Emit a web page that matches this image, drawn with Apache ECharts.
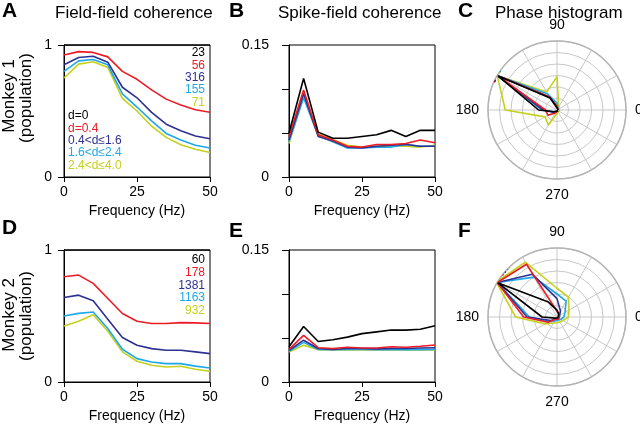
<!DOCTYPE html>
<html>
<head>
<meta charset="utf-8">
<script src="https://cdn.jsdelivr.net/npm/echarts@6/dist/echarts.min.js"></script>
<style>
  html, body { margin: 0; padding: 0; background: #fff; }
  #main { width: 640px; height: 426px; }
</style>
</head>
<body>
<div id="main"></div>
<script>
// frequency axis (Hz)
var freqs = [0, 5, 10, 15, 20, 25, 30, 35, 40, 45, 50];

// Monkey 1, field-field coherence
var ffM1Black  = [1, 1, 1, 1, 1, 1, 1, 1, 1, 1, 1];
var ffM1Red    = [0.924, 0.95, 0.944, 0.91, 0.80, 0.74, 0.66, 0.59, 0.545, 0.51, 0.49];
var ffM1Navy   = [0.85, 0.905, 0.915, 0.87, 0.68, 0.60, 0.49, 0.40, 0.35, 0.31, 0.29];
var ffM1Cyan   = [0.80, 0.88, 0.89, 0.85, 0.63, 0.53, 0.425, 0.33, 0.28, 0.24, 0.22];
var ffM1Yellow = [0.75, 0.855, 0.873, 0.83, 0.595, 0.50, 0.385, 0.30, 0.245, 0.21, 0.185];

// Monkey 1, spike-field coherence
var sfM1Black  = [0.050, 0.112, 0.051, 0.044, 0.044, 0.046, 0.048, 0.053, 0.046, 0.053, 0.053];
var sfM1Red    = [0.046, 0.099, 0.048, 0.042, 0.035, 0.034, 0.037, 0.037, 0.038, 0.042, 0.039];
var sfM1Navy   = [0.042, 0.095, 0.046, 0.041, 0.034, 0.033, 0.035, 0.036, 0.037, 0.035, 0.035];
var sfM1Cyan   = [0.040, 0.090, 0.047, 0.040, 0.033, 0.033, 0.034, 0.034, 0.037, 0.035, 0.035];
var sfM1Yellow = [0.038, 0.093, 0.049, 0.0425, 0.036, 0.034, 0.035, 0.035, 0.035, 0.034, 0.036];

// Monkey 2, field-field coherence
var ffM2Black  = [1, 1, 1, 1, 1, 1, 1, 1, 1, 1, 1];
var ffM2Red    = [0.797, 0.81, 0.747, 0.633, 0.519, 0.46, 0.443, 0.443, 0.45, 0.448, 0.443];
var ffM2Navy   = [0.64, 0.658, 0.615, 0.475, 0.337, 0.278, 0.253, 0.24, 0.24, 0.228, 0.215];
var ffM2Cyan   = [0.50, 0.52, 0.53, 0.405, 0.248, 0.177, 0.152, 0.139, 0.139, 0.12, 0.106];
var ffM2Yellow = [0.425, 0.46, 0.51, 0.385, 0.228, 0.157, 0.127, 0.114, 0.119, 0.096, 0.081];

// Monkey 2, spike-field coherence
var sfM2Black  = [0.040, 0.063, 0.046, 0.048, 0.051, 0.055, 0.057, 0.059, 0.059, 0.060, 0.064];
var sfM2Red    = [0.037, 0.053, 0.039, 0.038, 0.0395, 0.0387, 0.0387, 0.040, 0.0395, 0.0406, 0.042];
var sfM2Navy   = [0.036, 0.0475, 0.038, 0.037, 0.038, 0.038, 0.0376, 0.038, 0.038, 0.0387, 0.039];
var sfM2Cyan   = [0.035, 0.045, 0.037, 0.0368, 0.037, 0.037, 0.0368, 0.0368, 0.037, 0.0368, 0.037];
var sfM2Yellow = [0.034, 0.0418, 0.0368, 0.0365, 0.0365, 0.0365, 0.0365, 0.0365, 0.0365, 0.0365, 0.0365];

// phase histograms (bins in degrees)
var phaseBins = [0, 30, 60, 90, 120, 150, 180, 210, 240, 270, 300, 330];
var phM1Black  = [0.1, 0.1, 0.1, 0.2, 1.2, 5.9, 1.6, 0.3, 0.2, 0.1, 0.1, 0.1];
var phM1Red    = [0.1, 0.1, 0.1, 0.3, 1.3, 5.9, 1.0, 0.9, 0.3, 0.1, 0.1, 0.1];
var phM1Navy   = [0.1, 0.1, 0.1, 0.3, 1.3, 5.9, 1.2, 0.4, 0.2, 0.1, 0.1, 0.1];
var phM1Cyan   = [0.1, 0.1, 0.2, 0.6, 1.6, 6.0, 1.3, 0.3, 0.2, 0.1, 0.1, 0.1];
var phM1Yellow = [0.2, 0.2, 0.3, 2.9, 1.8, 6.0, 4.5, 1.2, 1.5, 0.3, 0.2, 0.2];

var phM2Black  = [0.1, 0.1, 0.3, 0.6, 1.5, 5.9, 1.3, 0.2, 0.1, 0.1, 0.1, 0.1];
var phM2Red    = [0.2, 0.2, 0.3, 0.5, 5.3, 6.0, 2.9, 0.9, 0.2, 0.2, 0.2, 0.2];
var phM2Navy   = [0.2, 0.3, 0.6, 1.6, 4.3, 6.0, 2.6, 0.6, 0.2, 0.2, 0.2, 0.2];
var phM2Cyan   = [0.6, 0.8, 1.6, 2.0, 4.0, 6.0, 2.4, 0.8, 0.4, 0.3, 0.3, 0.4];
var phM2Yellow = [1.0, 1.2, 2.0, 2.5, 5.5, 6.1, 3.6, 1.2, 0.6, 0.5, 0.5, 0.6];

// mean phase markers (degrees)
var meanM1 = [155, 155.5, 154.5, 146, 147];
var meanM2 = [142, 142, 139, 136, 134];

var legendLabels = ['d=0', 'd=0.4', '0.4<d\u22641.6', '1.6<d\u22642.4', '2.4<d\u22644.0'];
var countsM1 = ['23', '56', '316', '155', '71'];
var countsM2 = ['60', '178', '1381', '1163', '932'];

var colors = ['#000000', '#ed1c24', '#2e3192', '#1fa8e8', '#c5d11c'];
var FONT = 'Liberation Sans, Arial, Helvetica, sans-serif';

function pairs(ys) {
  var out = [];
  for (var i = 0; i < freqs.length; i++) out.push([freqs[i], ys[i]]);
  return out;
}
function polarPairs(rs) {
  var out = [];
  for (var i = 0; i < phaseBins.length; i++) out.push([rs[i], phaseBins[i]]);
  out.push([rs[0], 360]);
  return out;
}

var grids = [
  { left: 64, top: 45, width: 146, height: 132 },
  { left: 289, top: 45, width: 146, height: 132 },
  { left: 64, top: 250, width: 146, height: 132 },
  { left: 289, top: 250, width: 146, height: 132 }
].map(function (g) {
  g.show = true; g.borderColor = '#000'; g.borderWidth = 1; g.outerBoundsMode = 'none';
  return g;
});

var xAxes = [0, 1, 2, 3].map(function (i) {
  return {
    type: 'value', gridIndex: i, min: 0, max: 50, interval: 25,
    name: 'Frequency (Hz)', nameLocation: 'middle', nameGap: 27,
    nameTextStyle: { fontFamily: FONT, fontSize: 14, color: '#000' },
    axisLine: { lineStyle: { color: '#000', width: 1 } },
    axisTick: { length: 5, lineStyle: { color: '#000' } },
    axisLabel: { fontFamily: FONT, fontSize: 14, color: '#000', margin: 8 },
    splitLine: { show: false }
  };
});

function ffAxis(i) {
  return {
    type: 'value', gridIndex: i, min: 0, max: 1, interval: 1,
    axisLine: { lineStyle: { color: '#000' } },
    axisTick: { length: 6, lineStyle: { color: '#000' } },
    axisLabel: { fontFamily: FONT, fontSize: 14, color: '#000', margin: 12 },
    splitLine: { show: false }
  };
}
function sfAxis(i) {
  return {
    type: 'value', gridIndex: i, min: 0, max: 0.15, interval: 0.05,
    axisLine: { lineStyle: { color: '#000' } },
    axisTick: { length: 7, lineStyle: { color: '#000' } },
    axisLabel: {
      fontFamily: FONT, fontSize: 14, color: '#000', margin: 20,
      formatter: function (v) {
        if (Math.abs(v) < 1e-9) return '0';
        if (Math.abs(v - 0.15) < 1e-9) return '0.15';
        return '';
      }
    },
    splitLine: { show: false }
  };
}
var yAxes = [ffAxis(0), sfAxis(1), ffAxis(2), sfAxis(3)];

var series = [];
function addLines(idx, sets) {
  for (var k = sets.length - 1; k >= 0; k--) {
    series.push({
      type: 'line', xAxisIndex: idx, yAxisIndex: idx,
      data: pairs(sets[k]), showSymbol: false, symbol: 'none',
      lineStyle: { color: colors[k], width: 1.6 }, z: 3 + (sets.length - k)
    });
  }
}
addLines(0, [ffM1Black, ffM1Red, ffM1Navy, ffM1Cyan, ffM1Yellow]);
addLines(1, [sfM1Black, sfM1Red, sfM1Navy, sfM1Cyan, sfM1Yellow]);
addLines(2, [ffM2Black, ffM2Red, ffM2Navy, ffM2Cyan, ffM2Yellow]);
addLines(3, [sfM2Black, sfM2Red, sfM2Navy, sfM2Cyan, sfM2Yellow]);

function addPolar(idx, sets, means) {
  for (var k = sets.length - 1; k >= 0; k--) {
    series.push({
      type: 'line', coordinateSystem: 'polar', polarIndex: idx,
      data: polarPairs(sets[k]), showSymbol: false, symbol: 'none',
      lineStyle: { color: colors[k], width: 1.6 }, z: 3 + (sets.length - k)
    });
  }
  for (var m = 0; m < means.length; m++) {
    if (idx === 1 && m === 0) continue;
    series.push({
      type: 'line', coordinateSystem: 'polar', polarIndex: idx, clip: false,
      data: [[5.9, means[m]], [6.45, means[m]]], showSymbol: false, symbol: 'none',
      lineStyle: { color: colors[m], width: 2 }, z: 10
    });
  }
}
addPolar(0, [phM1Black, phM1Red, phM1Navy, phM1Cyan, phM1Yellow], meanM1);
addPolar(1, [phM2Black, phM2Red, phM2Navy, phM2Cyan, phM2Yellow], meanM2);

var polars = [
  { center: [557, 110], radius: 69 },
  { center: [557, 317], radius: 69 }
];
var angleAxes = [0, 1].map(function (i) {
  return {
    polarIndex: i, type: 'value', min: 0, max: 360, interval: 30,
    startAngle: 0, clockwise: false,
    axisLine: { lineStyle: { color: '#b4b4b4', width: 1.5 } },
    axisTick: { show: false },
    splitLine: { lineStyle: { color: '#c8c8c8', width: 1 } },
    axisLabel: {
      fontFamily: FONT, fontSize: 14, color: '#000', margin: 9,
      formatter: function (v) { return (v % 90 === 0 && v < 360) ? String(v) : ''; }
    }
  };
});
var radiusAxes = [0, 1].map(function (i) {
  return {
    polarIndex: i, type: 'value', min: 0, max: 6, interval: 1,
    axisLine: { show: false }, axisTick: { show: false }, axisLabel: { show: false },
    splitLine: { lineStyle: { color: '#c8c8c8', width: 1 } }
  };
});

// text helpers
function txt(x, y, s, o) {
  o = o || {};
  return {
    type: 'text', x: x, y: y, rotation: o.rot || 0, z: 20,
    style: {
      text: s, fill: o.color || '#000', fontFamily: FONT,
      fontSize: o.size || 14, fontWeight: o.weight || 'normal',
      align: o.align || 'left', verticalAlign: 'middle'
    }
  };
}
var graphics = [
  txt(2, 11, 'A', { size: 21, weight: 'bold' }),
  txt(229, 11, 'B', { size: 21, weight: 'bold' }),
  txt(458, 11, 'C', { size: 21, weight: 'bold' }),
  txt(2, 228, 'D', { size: 21, weight: 'bold' }),
  txt(229, 231, 'E', { size: 21, weight: 'bold' }),
  txt(458, 231, 'F', { size: 21, weight: 'bold' }),
  txt(55, 13, 'Field-field coherence', { size: 17 }),
  txt(278, 13, 'Spike-field coherence', { size: 17 }),
  txt(495, 13, 'Phase histogram', { size: 17 }),
  txt(9, 96, 'Monkey 1', { size: 17, align: 'center', rot: Math.PI / 2 }),
  txt(26, 98, '(population)', { size: 17, align: 'center', rot: Math.PI / 2 }),
  txt(9, 315, 'Monkey 2', { size: 17, align: 'center', rot: Math.PI / 2 }),
  txt(26, 316, '(population)', { size: 17, align: 'center', rot: Math.PI / 2 })
];
for (var i = 0; i < 5; i++) {
  graphics.push(txt(205, 53 + i * 12.3, countsM1[i], { size: 12, align: 'right', color: colors[i] }));
  graphics.push(txt(68, 116 + i * 12.3, legendLabels[i], { size: 12, color: colors[i] }));
  graphics.push(txt(205, 260 + i * 12.7, countsM2[i], { size: 12, align: 'right', color: colors[i] }));
}

var chart = echarts.init(document.getElementById('main'), null, { renderer: 'canvas' });
chart.setOption({
  animation: false,
  backgroundColor: '#fff',
  grid: grids,
  xAxis: xAxes,
  yAxis: yAxes,
  polar: polars,
  angleAxis: angleAxes,
  radiusAxis: radiusAxes,
  series: series,
  graphic: graphics
});
</script>
</body>
</html>
